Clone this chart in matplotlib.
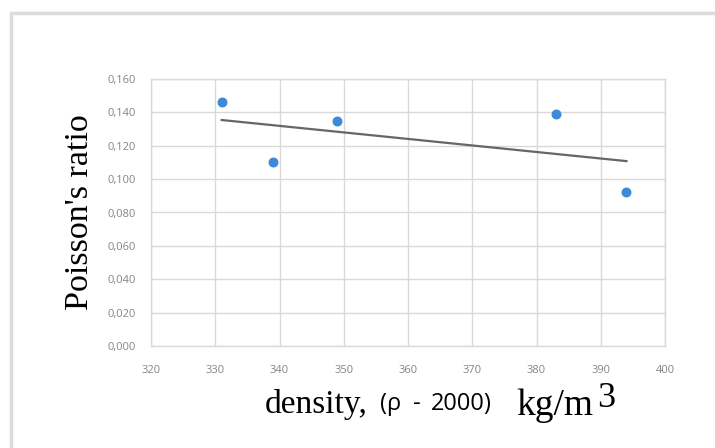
import numpy as np
import matplotlib
matplotlib.use("Agg")
import matplotlib.pyplot as plt
from matplotlib.patches import Rectangle
from matplotlib.ticker import FuncFormatter

density = [331, 339, 349, 383, 394]
poisson = [0.146, 0.110, 0.135, 0.139, 0.092]
x_ticks = [320, 330, 340, 350, 360, 370, 380, 390, 400]
y_ticks = [0.0, 0.02, 0.04, 0.06, 0.08, 0.10, 0.12, 0.14, 0.16]

# linear trend line (as Excel draws it)
k, b = np.polyfit(density, poisson, 1)
trend_x = np.array([min(density), max(density)])
trend_y = k * trend_x + b

fig = plt.figure(figsize=(7.15, 4.48), dpi=100)
W, H = 715, 448
ax = fig.add_axes([151 / W, 1 - 346 / H, (665 - 151) / W, (346 - 79) / H])

grid_c = "#d9d9d9"
ax.set_xlim(320, 400)
ax.set_ylim(0, 0.16)
ax.set_xticks(x_ticks)
ax.set_yticks(y_ticks)
ax.grid(True, color=grid_c, linewidth=1)
ax.set_axisbelow(True)
for s in ax.spines.values():
    s.set_color(grid_c)
    s.set_linewidth(1)
ax.tick_params(length=0, labelsize=8, labelcolor="#858585")
ax.tick_params(axis="x", pad=14)
ax.tick_params(axis="y", pad=11)
for lab in ax.get_xticklabels() + ax.get_yticklabels():
    lab.set_family("Open Sans")
ax.yaxis.set_major_formatter(FuncFormatter(lambda v, p: f"{v:.3f}".replace(".", ",")))

ax.plot(trend_x, trend_y, color="#666666", linewidth=1.6)
ax.scatter(density, poisson, s=38, color="#3d8ad8", zorder=3)

ax.set_ylabel("Poisson's ratio", family="Liberation Serif", fontsize=24.5, labelpad=9)

# x label built from pieces
fig.text(265 / W, 1 - 413 / H, "density,", family="Liberation Serif", fontsize=24, va="baseline")
fig.text(380 / W, 1 - 410 / H, "(ρ", family="Open Sans", fontsize=17, va="baseline")
fig.text(413 / W, 1 - 410 / H, "-", family="Open Sans", fontsize=17, va="baseline")
fig.text(431 / W, 1 - 410 / H, "2000)", family="Open Sans", fontsize=17, va="baseline")
fig.text(516 / W, 1 - 415 / H, "kg/m", family="Liberation Serif", fontsize=27, va="baseline")
fig.text(597 / W, 1 - 407 / H, "3", family="Liberation Serif", fontsize=26, va="baseline")

# outer chart frame
fig.patches.append(Rectangle((11 / W, -0.1), 1.2, 1 - 13 / H + 0.1, transform=fig.transFigure,
                             fill=False, edgecolor="#dcdcdc", linewidth=2.5))

fig.savefig("out.png", dpi=100)
